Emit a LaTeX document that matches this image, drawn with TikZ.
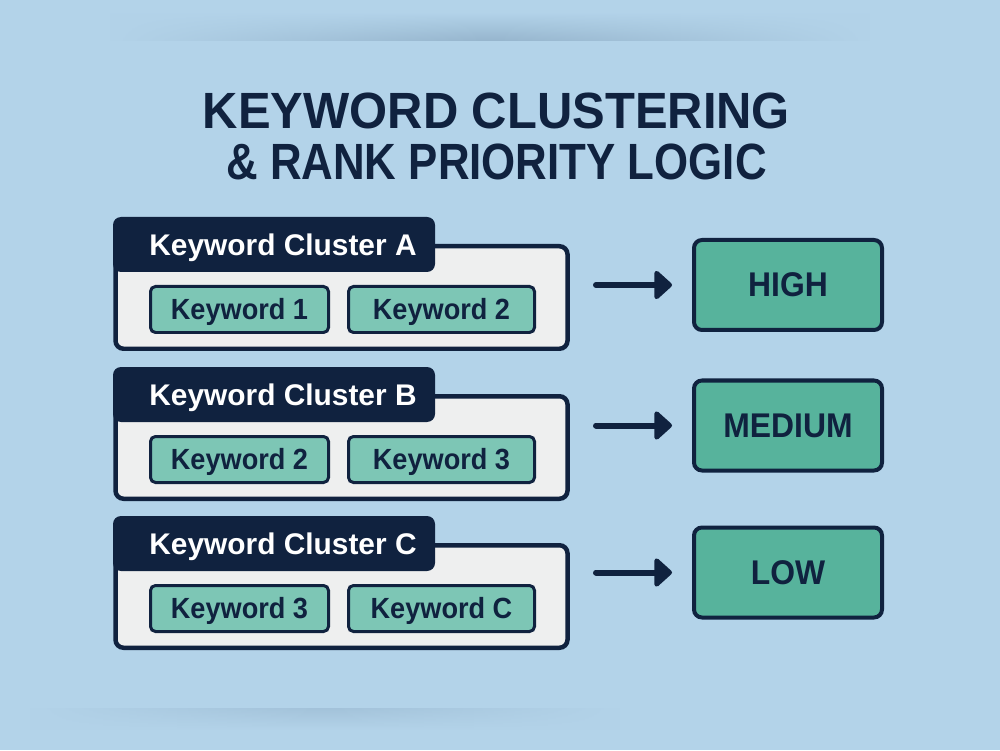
\documentclass[tikz,border=0pt]{standalone}
\usepackage{fontspec}
\setmainfont{Liberation Sans}
\newfontfamily\headfont[FakeStretch=0.96]{Liberation Sans}
\newfontfamily\subheadfont[FakeStretch=0.86]{Liberation Sans}
\newfontfamily\boxfont[FakeStretch=0.93]{Liberation Sans}
\usetikzlibrary{positioning,arrows.meta,fadings}
\definecolor{navy}{HTML}{10223F}
\definecolor{bgblue}{HTML}{B3D3E9}
\definecolor{shadowblue}{HTML}{96B5CD}
\definecolor{bodygray}{HTML}{EEEFEF}
\definecolor{kwteal}{HTML}{7DC6B5}
\definecolor{prioteal}{HTML}{57B39C}
\tikzfading[name=sidefade, left color=transparent!100, right color=transparent!100,
            middle color=transparent!0]

\begin{document}
\begin{tikzpicture}[font=\bfseries,
                    body/.style={draw=navy, fill=bodygray, line width=0.09cm, rounded corners=0.16cm,
                                 minimum width=9.04cm, minimum height=2.05cm, inner sep=0pt},
                    tab/.style={fill=navy, rounded corners=0.16cm, minimum width=6.44cm, minimum height=1.1cm,
                                inner sep=0pt, text=white, text height=12.2pt, text depth=0pt,
                                font=\bfseries\fontsize{17}{20}\selectfont},
                    kw/.style={draw=navy, fill=kwteal, line width=0.06cm, rounded corners=0.1cm,
                               minimum height=0.92cm, inner sep=0pt, text=navy,
                               text height=11.9pt, text depth=0pt,
                               font=\boxfont\bfseries\fontsize{16.6}{19}\selectfont},
                    prio/.style={draw=navy, fill=prioteal, line width=0.08cm, rounded corners=0.16cm,
                                 minimum width=3.76cm, minimum height=1.8cm, inner sep=0pt, text=navy,
                                 font=\boxfont\bfseries\fontsize{19.5}{23}\selectfont},
                    arr/.style={navy, line width=0.12cm, line cap=round,
                                -{Triangle[length=0.38cm, width=0.66cm, round]},
                                shorten <=0.525cm, shorten >=0.4cm}]
  \fill[bgblue] (0,0) rectangle (20,15);
  % soft shadows at top and bottom
  \shade[top color=bgblue, bottom color=shadowblue, path fading=sidefade] (2.2,14.18) rectangle (17.4,14.75);
  \shade[top color=shadowblue!55!bgblue, bottom color=bgblue, path fading=sidefade] (0.6,0.4) rectangle (12.4,0.84);
  \node[align=center, text=navy, font=\bfseries\fontsize{29}{29.5}\selectfont] (title) at (9.93,12.27)
    {{\headfont KEYWORD CLUSTERING}\\ {\subheadfont \& RANK PRIORITY LOGIC}};
  \foreach \r/\dy/\py/\ka/\kb/\lvl in {A/0/9.30/1/2/HIGH, B/3.0/6.49/2/3/MEDIUM, C/5.98/3.55/3/C/LOW} {
    \begin{scope}[yshift=-\dy cm]
      \node[body] (body\r) at (6.83,9.05) {};
      \node[tab] (tab\r) at (5.48,10.11) {\hspace*{0.36cm}Keyword Cluster \r};
      \node[kw, minimum width=3.56cm] (kw\r1) at (4.79,8.81) {Keyword \ka};
      \node[kw, minimum width=3.72cm] (kw\r2) at (8.83,8.81) {Keyword \kb};
    \end{scope}
    \node[prio] (prio\r) at (15.76,\py) {\lvl};
    \draw[arr] (prio\r.west -| body\r.east) -- (prio\r.west);
  }
\end{tikzpicture}
\end{document}
